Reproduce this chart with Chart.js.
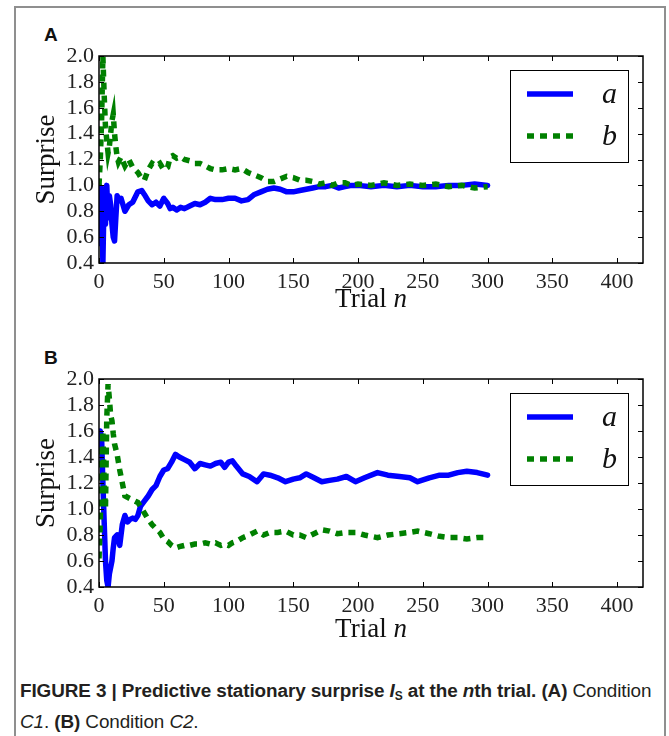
<!DOCTYPE html>
<html>
<head>
<meta charset="utf-8">
<script src="https://cdn.jsdelivr.net/npm/chart.js@4.4.0/dist/chart.umd.min.js"></script>
<style>
  body { margin: 0; background: #fff; width: 669px; height: 736px; position: relative; overflow: hidden; font-family: "Liberation Sans", Arial, sans-serif; }
  .frame { position: absolute; left: 14px; top: 6px; width: 648px; height: 760px; border: 2px solid #8f8f8f; border-bottom: none; }
  .panel { position: absolute; left: 0; width: 669px; }
  #wrapA { top: 0; height: 320px; }
  #wrapB { top: 323px; height: 321px; }
  .lab { position: absolute; left: 44px; font: bold 19px "Liberation Sans", Arial, sans-serif; color: #111; }
  .caption { position: absolute; left: 20px; top: 678px; font-size: 18.9px; line-height: 26px; color: #231f20; white-space: nowrap; letter-spacing: -0.1px; }
  .caption sub { font-size: 12px; vertical-align: -3px; }
</style>
</head>
<body>
<div class="frame"></div>
<div class="lab" style="top:24px">A</div>
<div class="lab" style="top:347px">B</div>
<div class="panel" id="wrapA"><canvas id="chartA"></canvas></div>
<div class="panel" id="wrapB"><canvas id="chartB"></canvas></div>
<div class="caption">
  <b>FIGURE 3 | Predictive stationary surprise <i>I</i><sub>S</sub> at the <i>n</i>th trial. (A)</b> Condition<br>
  <i>C1</i>. <b>(B)</b> Condition <i>C2</i>.
</div>

<script>
// ---- panel A (condition C1) ----
const trialsA = [0,1,2,3,4,5,6,7,8,9,10,11,12,13,14,15,17,20,23,26,30,33,35,38,41,44,47,50,53,55,57,60,63,66,70,74,78,82,86,90,95,100,105,110,115,120,125,130,135,140,145,150,155,160,165,170,175,180,185,190,195,200,210,220,230,240,250,260,270,280,290,300];
const surpriseA_a = [1.0,0.55,0.98,0.4,0.95,0.7,1.0,0.75,0.92,0.85,0.7,0.6,0.57,0.75,0.92,0.88,0.9,0.8,0.85,0.87,0.95,0.96,0.93,0.88,0.85,0.87,0.84,0.9,0.86,0.82,0.83,0.81,0.83,0.82,0.84,0.86,0.85,0.87,0.9,0.89,0.89,0.9,0.9,0.88,0.89,0.93,0.95,0.97,0.98,0.97,0.95,0.95,0.96,0.97,0.98,0.99,0.99,1.0,0.98,0.99,1.0,1.0,0.99,1.0,0.99,1.0,0.99,0.99,1.0,1.0,1.01,1.0];
const surpriseA_b = [1.0,1.2,1.5,2.0,1.7,1.45,1.35,1.25,1.3,1.4,1.5,1.55,1.4,1.3,1.22,1.18,1.22,1.15,1.2,1.14,1.1,1.05,1.04,1.12,1.17,1.15,1.17,1.12,1.14,1.22,1.23,1.21,1.22,1.2,1.19,1.17,1.17,1.15,1.13,1.12,1.12,1.13,1.12,1.13,1.1,1.08,1.06,1.03,1.03,1.05,1.07,1.06,1.04,1.04,1.03,1.01,1.02,1.0,1.02,1.02,1.0,1.01,1.0,1.02,1.0,1.01,1.0,1.01,0.99,1.0,0.98,0.99];

// ---- panel B (condition C2) ----
const trialsB = [0,1,2,3,4,5,6,7,8,9,10,11,12,14,16,18,20,22,24,26,28,30,32,35,38,41,44,47,50,53,56,59,62,66,70,74,78,82,86,90,94,97,100,103,106,111,116,122,127,132,138,144,150,155,160,166,172,178,184,191,198,205,215,223,232,240,246,255,263,270,277,284,292,300];
const surpriseB_a = [1.5,1.6,1.55,1.2,0.9,0.6,0.45,0.4,0.5,0.55,0.6,0.7,0.78,0.8,0.72,0.88,0.95,0.9,0.92,0.93,0.92,0.95,1.02,1.06,1.1,1.15,1.18,1.25,1.3,1.31,1.36,1.42,1.4,1.38,1.36,1.31,1.35,1.34,1.33,1.35,1.36,1.32,1.36,1.37,1.33,1.27,1.25,1.21,1.27,1.26,1.24,1.21,1.23,1.24,1.27,1.24,1.21,1.22,1.23,1.25,1.21,1.24,1.28,1.26,1.25,1.24,1.21,1.24,1.26,1.26,1.28,1.29,1.28,1.26];
const surpriseB_b = [0.62,0.9,1.4,1.6,1.2,1.0,1.7,1.96,1.85,1.72,1.68,1.58,1.5,1.42,1.3,1.2,1.1,1.09,1.08,1.07,1.06,1.05,1.02,0.97,0.92,0.88,0.85,0.82,0.77,0.75,0.72,0.7,0.71,0.72,0.72,0.73,0.73,0.74,0.73,0.74,0.72,0.73,0.72,0.74,0.75,0.78,0.8,0.83,0.8,0.82,0.82,0.83,0.8,0.8,0.78,0.81,0.84,0.83,0.81,0.82,0.82,0.8,0.78,0.8,0.81,0.82,0.83,0.81,0.79,0.78,0.78,0.77,0.78,0.78];

const xTicks = [0,50,100,150,200,250,300,350,400];
const yTicks = [0.4,0.6,0.8,1.0,1.2,1.4,1.6,1.8,2.0];
const seriesNames = ['a','b'];

const serif = '"Liberation Serif", "Times New Roman", serif';

// box + inward ticks on every side, axis titles, legend box
const decor = {
  id: 'decor',
  afterDatasetsDraw(chart, args, opts) {
    const ctx = chart.ctx;
    const {left, right, top, bottom} = chart.chartArea;
    const xs = chart.scales.x, ys = chart.scales.y;
    ctx.save();
    ctx.strokeStyle = '#000';
    ctx.lineWidth = 1;
    ctx.beginPath();
    xTicks.forEach(v => {
      const px = Math.round(xs.getPixelForValue(v)) + 0.5;
      ctx.moveTo(px, bottom); ctx.lineTo(px, bottom - 5);
      ctx.moveTo(px, top); ctx.lineTo(px, top + 5);
    });
    yTicks.forEach(v => {
      const py = Math.round(ys.getPixelForValue(v)) + 0.5;
      ctx.moveTo(left, py); ctx.lineTo(left + 5, py);
      ctx.moveTo(right, py); ctx.lineTo(right - 5, py);
    });
    ctx.stroke();
    ctx.lineWidth = 1.5;
    ctx.strokeRect(left, top, right - left, bottom - top);

    // axis titles
    ctx.fillStyle = '#111';
    ctx.textBaseline = 'alphabetic';
    const t1 = 'Trial ';
    ctx.font = 'italic 27px ' + serif;
    const wn = ctx.measureText('n').width;
    ctx.font = '27px ' + serif;
    const w1 = ctx.measureText(t1).width;
    const cx = (left + right) / 2;
    const bx = cx - (w1 + wn) / 2;
    const by = bottom + opts.titleOffset;
    ctx.textAlign = 'left';
    ctx.fillText(t1, bx, by);
    ctx.font = 'italic 27px ' + serif;
    ctx.fillText('n', bx + w1, by);

    ctx.save();
    ctx.translate(47, (top + bottom) / 2);
    ctx.rotate(-Math.PI / 2);
    ctx.font = '27px ' + serif;
    ctx.textAlign = 'center';
    ctx.textBaseline = 'middle';
    ctx.fillText('Surprise', 0, 0);
    ctx.restore();

    // legend
    const lx = right - 133, ly = top + 14, lw = 118, lh = 92;
    ctx.fillStyle = '#fff';
    ctx.fillRect(lx, ly, lw, lh);
    ctx.strokeStyle = '#000';
    ctx.lineWidth = 1;
    ctx.strokeRect(lx + 0.5, ly + 0.5, lw, lh);
    chart.data.datasets.forEach((ds, i) => {
      const yy = ly + 24 + i * 42;
      ctx.save();
      ctx.strokeStyle = ds.borderColor;
      ctx.lineWidth = 5.5;
      ctx.setLineDash(ds.borderDash || []);
      ctx.beginPath();
      ctx.moveTo(lx + 17, yy);
      ctx.lineTo(lx + 63, yy);
      ctx.stroke();
      ctx.restore();
      ctx.fillStyle = '#111';
      ctx.font = 'italic 30px ' + serif;
      ctx.textAlign = 'left';
      ctx.textBaseline = 'middle';
      ctx.fillText(ds.label, lx + 92, yy + 1);
    });
    ctx.restore();
  }
};

function makeChart(id, trials, aVals, bVals, titleOffset) {
  return new Chart(document.getElementById(id), {
    type: 'line',
    data: {
      datasets: [
        { label: seriesNames[0], data: trials.map((n, i) => ({ x: n, y: aVals[i] })), borderColor: '#0000ff', borderWidth: 5.5, pointRadius: 0, tension: 0, borderJoinStyle: 'round', borderCapStyle: 'round', order: 2 },
        { label: seriesNames[1], data: trials.map((n, i) => ({ x: n, y: bVals[i] })), borderColor: '#008000', borderWidth: 5.5, borderDash: [7, 6], pointRadius: 0, tension: 0, borderCapStyle: 'butt', order: 1 }
      ]
    },
    options: {
      responsive: true,
      maintainAspectRatio: false,
      animation: false,
      layout: { padding: { top: 56, right: 26, left: 0, bottom: 0 } },
      plugins: { legend: { display: false }, tooltip: { enabled: false }, decor: { titleOffset } },
      scales: {
        x: {
          type: 'linear', min: 0, max: 420,
          afterBuildTicks: s => { s.ticks = xTicks.map(v => ({ value: v })); },
          afterFit: s => { s.height = 57; },
          grid: { display: false, drawTicks: false }, border: { display: false },
          ticks: { color: '#222', padding: 6, maxRotation: 0, autoSkip: false, font: { family: serif, size: 22 } }
        },
        y: {
          min: 0.4, max: 2.0,
          afterBuildTicks: s => { s.ticks = yTicks.map(v => ({ value: v })); },
          afterFit: s => { s.width = 99; },
          grid: { display: false, drawTicks: false }, border: { display: false },
          ticks: { color: '#222', padding: 5, autoSkip: false, font: { family: serif, size: 22 }, callback: v => v.toFixed(1) }
        }
      }
    },
    plugins: [decor]
  });
}

makeChart('chartA', trialsA, surpriseA_a, surpriseA_b, 44);
makeChart('chartB', trialsB, surpriseB_a, surpriseB_b, 50);
</script>
</body>
</html>
